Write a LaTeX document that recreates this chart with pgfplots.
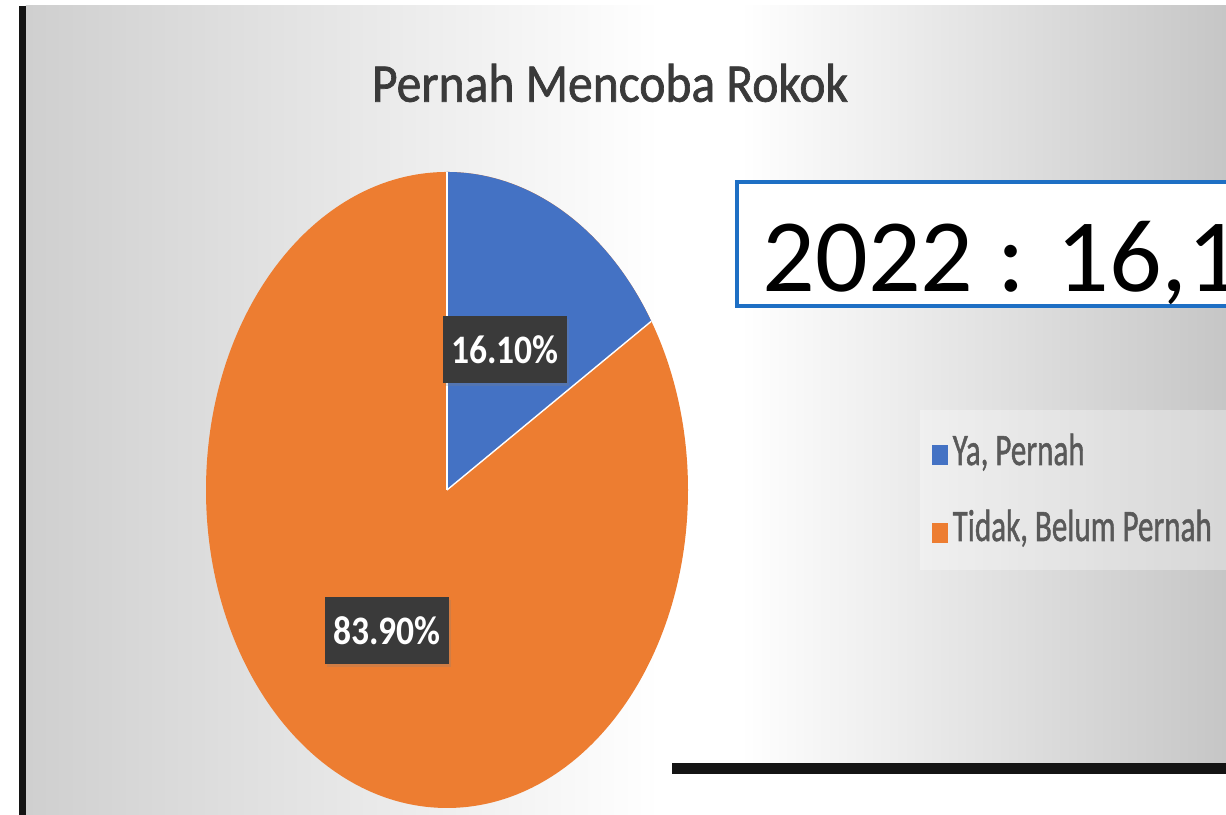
\documentclass[border=0pt]{standalone}
\usepackage{fontspec}
\setmainfont{Carlito}
\newfontfamily\semibold[FakeBold=1.3]{Carlito}
\usepackage{pgfplots}
\pgfplotsset{compat=1.18}
\usetikzlibrary{shadows}
\definecolor{SliceBlue}{HTML}{4472C4}
\definecolor{SliceOrange}{HTML}{ED7D31}
\definecolor{BoxBlue}{HTML}{1E6FC4}
\definecolor{TitleGray}{HTML}{3A3A3A}
\definecolor{LegendGray}{HTML}{595959}
\definecolor{LabelFill}{HTML}{3A3A3A}
\definecolor{BgGray}{HTML}{CFCFCF}
\definecolor{BgGrayR}{HTML}{C6C6C6}

% pie shares (percent)
\def\valYa{16.1}
\def\valTidak{83.9}

\begin{document}
\begin{tikzpicture}
% page background (1 px of the reference = 0.01cm)
\fill[white] (0,0) rectangle (12.26cm,8.15cm);
\shade[left color=BgGray, right color=white] (0.26cm,0) rectangle (6.6cm,8.09cm);
\fill[white] (6.59cm,0) rectangle (7.41cm,8.09cm);
\shade[left color=white, right color=BgGrayR] (7.4cm,0) rectangle (12.26cm,8.09cm);
\fill[white] (6.72cm,0) rectangle (12.26cm,0.41cm);
\fill[black!92] (0.19cm,0) rectangle (0.26cm,8.09cm);
\fill[black!92] (6.72cm,0.41cm) rectangle (12.26cm,0.52cm);

\begin{axis}[
    width=12.26cm, height=8.15cm, scale only axis,
    xmin=0, xmax=1226, ymin=0, ymax=815,
    hide axis, clip=false
]
% title
\node[font=\fontsize{15.5}{18}\selectfont\semibold, text=TitleGray, xscale=0.91]
    at (axis cs:610,732) {Pernah Mencoba Rokok};

% pie
\pgfmathsetmacro{\aEnd}{90-3.6*\valYa}
\fill[SliceOrange] (axis cs:447,325) ellipse [x radius=2.41cm, y radius=3.18cm];
\fill[SliceBlue] (axis cs:447,325) -- ++(0,3.18cm)
    arc[start angle=90, end angle=\aEnd, x radius=2.41cm, y radius=3.18cm] -- cycle;
\draw[white, line width=0.4pt] (axis cs:447,325) -- ++(0,3.18cm);
\draw[white, line width=0.4pt] (axis cs:447,325) -- ++({2.41cm*cos(\aEnd)},{3.18cm*sin(\aEnd)});

% data labels
\node[fill=LabelFill, text=white, minimum width=1.24cm, minimum height=0.67cm,
      inner sep=0pt, drop shadow={opacity=0.25, shadow xshift=0.5pt, shadow yshift=-0.8pt},
      font=\fontsize{11.5}{13}\selectfont\bfseries]
    at (axis cs:505,465) {\scalebox{0.88}[1]{16.10\%}};
\node[fill=LabelFill, text=white, minimum width=1.24cm, minimum height=0.67cm,
      inner sep=0pt, drop shadow={opacity=0.25, shadow xshift=0.5pt, shadow yshift=-0.8pt},
      font=\fontsize{11.5}{13}\selectfont\bfseries]
    at (axis cs:387,184) {\scalebox{0.88}[1]{83.90\%}};

% legend
\fill[white, opacity=0.3] (axis cs:920,245) rectangle (axis cs:1226,405);
\fill[SliceBlue] (axis cs:932,350) rectangle (axis cs:948,370);
\fill[SliceOrange] (axis cs:932,272) rectangle (axis cs:948,292);
\node[anchor=base west, text=LegendGray, inner sep=0pt, font=\fontsize{12.8}{15}\selectfont\semibold]
    at (axis cs:952,350) {\scalebox{0.69}[1]{Ya, Pernah}};
\node[anchor=base west, text=LegendGray, inner sep=0pt, font=\fontsize{12.8}{15}\selectfont\semibold]
    at (axis cs:952,274) {\scalebox{0.69}[1]{Tidak, Belum Pernah}};

% boxed note, cut at the right edge as in the source
\begin{scope}
\clip (axis cs:0,0) rectangle (axis cs:1226,815);
\draw[BoxBlue, line width=1.2pt, fill=white] (axis cs:737,509) rectangle (axis cs:1260,633);
\node[anchor=base west, font=\fontsize{29.6}{34}\selectfont, inner sep=0pt]
    at (axis cs:762,523) {2022 : 16,1};
\end{scope}
\end{axis}
\pgfresetboundingbox
\path (0,0) rectangle (12.26cm,8.15cm);
\end{tikzpicture}
\end{document}
